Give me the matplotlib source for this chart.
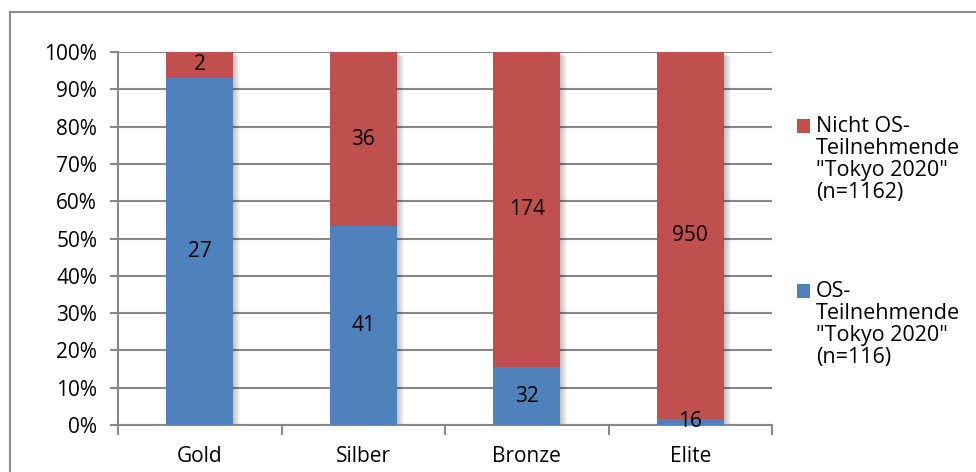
import numpy as np
import matplotlib
matplotlib.use('Agg')
import matplotlib.pyplot as plt
from matplotlib.patches import Rectangle

# data
categories = ['Gold', 'Silber', 'Bronze', 'Elite']
os_teilnehmende = [27, 41, 32, 16]
nicht_os = [2, 36, 174, 950]
legend_labels = ['Nicht OS-\nTeilnehmende\n"Tokyo 2020"\n(n=1162)',
                 'OS-\nTeilnehmende\n"Tokyo 2020"\n(n=116)']
y_ticks = np.arange(0, 1.01, 0.1)
y_ticklabels = [f'{int(round(t * 100))}%' for t in y_ticks]

blue = '#4F81BD'
red = '#C0504D'
grid_col = '#888888'

plt.rcParams['font.family'] = ['Open Sans', 'DejaVu Sans']

W, H = 976, 472
fig = plt.figure(figsize=(W / 100, H / 100), dpi=100)
ax = fig.add_axes([118 / W, 1 - 425 / H, (772 - 118) / W, (425 - 52) / H])

os_arr = np.array(os_teilnehmende, float)
nos_arr = np.array(nicht_os, float)
tot = os_arr + nos_arr
p_os = os_arr / tot
p_nos = nos_arr / tot
x = np.arange(len(categories))
bw = 67 / 163.5
px = 1 / 163.5
py = 1 / 373

# soft shadow on the right of the bars
for k in range(1, 8):
    ax.bar(x + k * px, 1.0, bw, bottom=-k * py * 0.6, color='k', alpha=0.035,
           zorder=2, linewidth=0)

ax.bar(x, p_os, bw, color=blue, zorder=3, linewidth=0)
ax.bar(x, p_nos, bw, bottom=p_os, color=red, zorder=3, linewidth=0)

for i in range(len(categories)):
    ax.text(x[i], p_os[i] / 2, str(os_teilnehmende[i]), ha='center', va='center',
            fontsize=15, zorder=4)
    ax.text(x[i], p_os[i] + p_nos[i] / 2, str(nicht_os[i]), ha='center', va='center',
            fontsize=15, zorder=4)

ax.set_xlim(-0.5, len(categories) - 0.5)
ax.set_ylim(0, 1)
ax.set_yticks(y_ticks)
ax.set_yticklabels(y_ticklabels)
ax.yaxis.grid(True, color=grid_col, lw=1.5)
ax.set_axisbelow(True)
for s in ['top', 'right']:
    ax.spines[s].set_visible(False)
for s in ['left', 'bottom']:
    ax.spines[s].set_color(grid_col)
    ax.spines[s].set_linewidth(1.5)

ax.set_xticks(np.arange(-0.5, len(categories), 1.0))
ax.set_xticklabels([])
ax.set_xticks(x, minor=True)
ax.set_xticklabels(categories, minor=True)
ax.tick_params(axis='x', which='major', length=7, width=1.5, color=grid_col)
ax.tick_params(axis='x', which='minor', length=0, pad=15, labelsize=15)
ax.tick_params(axis='y', length=6, width=1.5, color=grid_col, labelsize=15, pad=9)

# outer chart frame
fig.patches.append(Rectangle((10 / W, -0.1), 2, 1.1 - 12 / H, transform=fig.transFigure,
                             fill=False, ec='#8c8c8c', lw=1.5))

# legend
leg_colors = [red, blue]
leg_tops = [116, 281]
for c, lab, top in zip(leg_colors, legend_labels, leg_tops):
    fig.patches.append(Rectangle((797 / W, 1 - (top + 17) / H), 13 / W, 14 / H,
                                 transform=fig.transFigure, fc=c, ec='none'))
    fig.text(816 / W, 1 - top / H, lab, ha='left', va='top', fontsize=15.5,
             linespacing=1.07)

fig.savefig('out.png', dpi=100)
